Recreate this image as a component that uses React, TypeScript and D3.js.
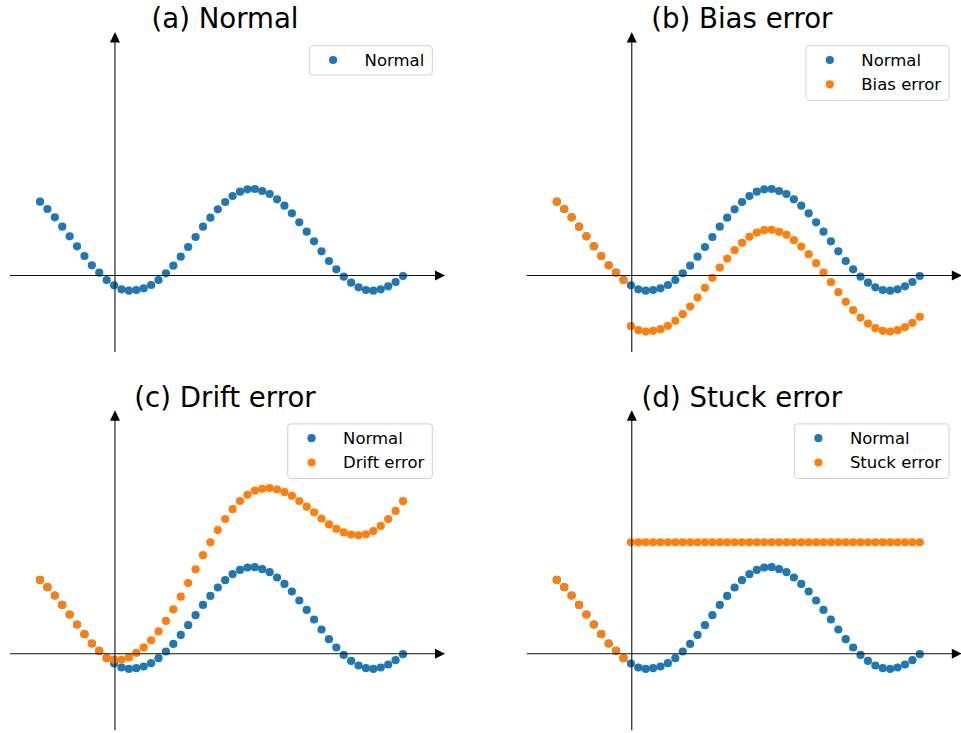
import React from "react";
import * as d3 from "d3";

// ---- data ----
const STEPS = d3.range(50); // sample index along the time axis
const ORIGIN_STEP = 10.12; // where the vertical axis crosses

const normal = [
  1.716, 1.547, 1.353, 1.135, 0.912, 0.679, 0.453, 0.237, 0.065, -0.105,
  -0.228, -0.321, -0.353, -0.337, -0.298, -0.221, -0.105, 0.051, 0.228, 0.437,
  0.663, 0.895, 1.135, 1.344, 1.54, 1.709, 1.849, 1.949, 2.005, 2.012,
  1.965, 1.895, 1.772, 1.623, 1.447, 1.237, 1.019, 0.795, 0.563, 0.337,
  0.144, -0.028, -0.167, -0.274, -0.337, -0.353, -0.321, -0.251, -0.151, -0.012,
];

const biasError = [
  1.716, 1.547, 1.353, 1.135, 0.912, 0.679, 0.453, 0.237, 0.065, -0.105,
  -1.178, -1.271, -1.303, -1.287, -1.248, -1.171, -1.055, -0.899, -0.722, -0.513,
  -0.287, -0.055, 0.185, 0.394, 0.59, 0.759, 0.899, 0.999, 1.055, 1.062,
  1.015, 0.945, 0.822, 0.673, 0.497, 0.287, 0.069, -0.155, -0.387, -0.613,
  -0.806, -0.978, -1.117, -1.224, -1.287, -1.303, -1.271, -1.201, -1.101, -0.962,
];

const driftError = [
  1.716, 1.547, 1.353, 1.135, 0.912, 0.679, 0.453, 0.237, 0.065, -0.105,
  -0.139, -0.143, -0.086, 0.019, 0.147, 0.313, 0.518, 0.763, 1.029, 1.327,
  1.642, 1.963, 2.292, 2.59, 2.875, 3.133, 3.362, 3.551, 3.696, 3.792,
  3.834, 3.853, 3.819, 3.759, 3.672, 3.551, 3.422, 3.287, 3.144, 3.007,
  2.903, 2.82, 2.77, 2.752, 2.778, 2.851, 2.972, 3.131, 3.32, 3.548,
];

const stuckError = [
  1.716, 1.547, 1.353, 1.135, 0.912, 0.679, 0.453, 0.237, 0.065, -0.105,
  2.59, 2.59, 2.59, 2.59, 2.59, 2.59, 2.59, 2.59, 2.59, 2.59,
  2.59, 2.59, 2.59, 2.59, 2.59, 2.59, 2.59, 2.59, 2.59, 2.59,
  2.59, 2.59, 2.59, 2.59, 2.59, 2.59, 2.59, 2.59, 2.59, 2.59,
  2.59, 2.59, 2.59, 2.59, 2.59, 2.59, 2.59, 2.59, 2.59, 2.59,
];

const titles = ["(a) Normal", "(b) Bias error", "(c) Drift error", "(d) Stuck error"];
const errorLabels = ["", "Bias error", "Drift error", "Stuck error"];
const errorSeries = [null, biasError, driftError, stuckError];

// ---- style ----
const BLUE = "#1f77b4";
const ORANGE = "#ff7f0e";
const FONT = "DejaVu Sans, sans-serif";
const R = 4.1;
const LEG_FONT = 16.5;

const measure = (() => {
  let ctx: CanvasRenderingContext2D | null = null;
  return (t: string, size: number) => {
    if (!ctx) ctx = document.createElement("canvas").getContext("2d");
    if (!ctx) return t.length * size * 0.6;
    ctx.font = `${size}px "DejaVu Sans"`;
    return ctx.measureText(t).width;
  };
})();

function Panel({ idx }: { idx: number }) {
  const col = idx % 2;
  const row = Math.floor(idx / 2);
  const dx = col * 516.8;
  const dy = row * 378.2;

  const x = d3.scaleLinear().domain([0, 49]).range([40 + dx, 403 + dx]);
  const y = d3.scaleLinear().domain([0, 1]).range([275.5 + dy, 275.5 + dy - 43]);

  const x0 = x(-4.05);
  const x1 = x(54.67);
  const yAx = y(0);
  const xAx = x(ORIGIN_STEP);
  const yBot = y(-1.78);
  const yTop = y(5.66);

  const series: { name: string; color: string; values: number[] }[] = [
    { name: "Normal", color: BLUE, values: normal },
  ];
  if (errorSeries[idx]) series.push({ name: errorLabels[idx], color: ORANGE, values: errorSeries[idx] as number[] });

  // legend
  const legRight = 432.3 + dx;
  const legTop = 45.7 + dy;
  const maxW = Math.max(...series.map((s) => measure(s.name, LEG_FONT)));
  const legLeft = legRight - 8 - maxW - 55.3;
  const legH = series.length === 1 ? 29.3 : 54.6;

  return (
    <g>
      <text x={225 + dx} y={28.3 + dy} textAnchor="middle" fontFamily={FONT} fontSize={27.6} fill="#000">
        {titles[idx]}
      </text>
      {series.map((s) => (
        <g key={s.name}>
          {s.values.map((v, i) => (
            <circle key={i} cx={x(STEPS[i])} cy={y(v)} r={R} fill={s.color} />
          ))}
        </g>
      ))}
      {/* axes */}
      <line x1={x0} x2={x1 - 5} y1={yAx} y2={yAx} stroke="#111" strokeWidth={1.1} />
      <line x1={xAx} x2={xAx} y1={yBot} y2={yTop + 5} stroke="#111" strokeWidth={1.1} />
      <path d={`M${x1},${yAx} L${x1 - 10},${yAx - 5} L${x1 - 10},${yAx + 5} Z`} fill="#000" />
      <path d={`M${xAx},${yTop} L${xAx - 5},${yTop + 10.5} L${xAx + 5},${yTop + 10.5} Z`} fill="#000" />
      {/* legend */}
      <rect
        x={legLeft}
        y={legTop}
        width={legRight - legLeft}
        height={legH}
        rx={3}
        fill="#fff"
        fillOpacity={0.8}
        stroke="#d0d0d0"
        strokeWidth={1}
      />
      {series.map((s, k) => (
        <g key={s.name}>
          <circle cx={legLeft + 23.8} cy={legTop + 14.3 + k * 24.3} r={R} fill={s.color} />
          <text
            x={legLeft + 55.3}
            y={legTop + 20 + k * 24.3}
            fontFamily={FONT}
            fontSize={LEG_FONT}
            fill="#000"
          >
            {s.name}
          </text>
        </g>
      ))}
    </g>
  );
}

export default function App() {
  return (
    <svg
      width={961}
      height={733}
      style={{ position: "absolute", left: 0, top: 0, background: "#fff" }}
    >
      <rect width={961} height={733} fill="#fff" />
      {[0, 1, 2, 3].map((i) => (
        <Panel key={i} idx={i} />
      ))}
    </svg>
  );
}
